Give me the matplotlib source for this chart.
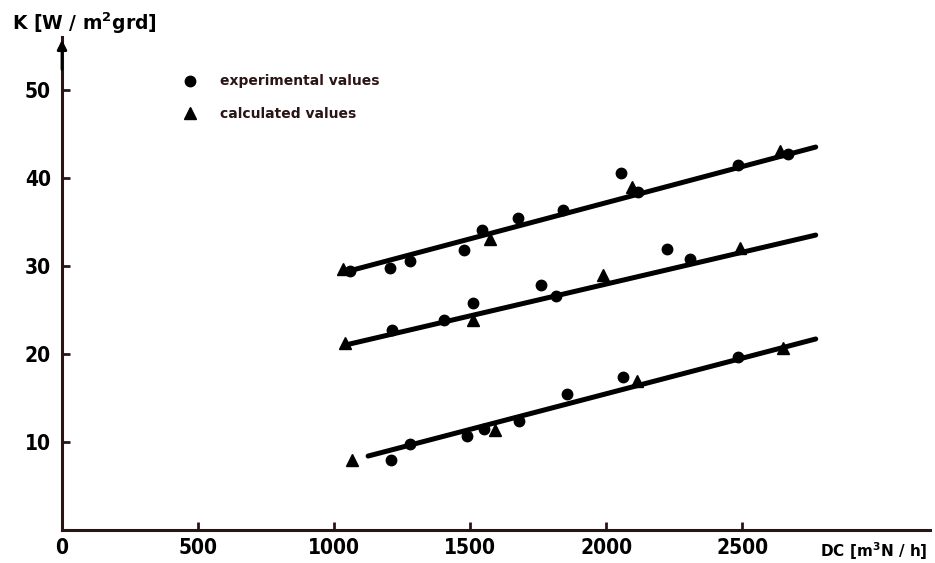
import matplotlib
matplotlib.use("Agg")
import matplotlib.pyplot as plt
from matplotlib.lines import Line2D

# ---- data ----
xticks = [0, 500, 1000, 1500, 2000, 2500]
yticks = [10, 20, 30, 40, 50]

# top series
top_exp_x = [1060, 1206, 1279, 1478, 1544, 1676, 1842, 2055, 2118, 2485, 2669]
top_exp_y = [29.4, 29.8, 30.6, 31.8, 34.1, 35.4, 36.3, 40.6, 38.4, 41.5, 42.7]
top_calc_x = [1033, 1574, 2095, 2640]
top_calc_y = [29.6, 33.0, 39.0, 43.0]
top_fit_x = [1040, 2770]
top_fit_y = [29.3, 43.5]

# middle series
mid_exp_x = [1213, 1404, 1511, 1761, 1816, 2224, 2309]
mid_exp_y = [22.7, 23.8, 25.8, 27.8, 26.6, 31.9, 30.8]
mid_calc_x = [1040, 1511, 1989, 2493]
mid_calc_y = [21.2, 23.8, 29.0, 32.0]
mid_fit_x = [1040, 2770]
mid_fit_y = [21.0, 33.5]

# bottom series
bot_exp_x = [1210, 1279, 1489, 1551, 1680, 1857, 2063, 2485]
bot_exp_y = [7.9, 9.8, 10.7, 11.5, 12.4, 15.4, 17.4, 19.6]
bot_calc_x = [1066, 1592, 2114, 2651]
bot_calc_y = [8.0, 11.4, 16.9, 20.7]
bot_fit_x = [1125, 2770]
bot_fit_y = [8.4, 21.7]

axis_col = "#2b1510"
text_col = "#2a1414"
W, H = 935, 563
fig = plt.figure(figsize=(W / 100, H / 100), dpi=100)
ax = fig.add_axes([62 / W, (H - 530) / H, (930 - 62) / W, (530 - 37) / H])
ax.set_xlim(0, 3190)
ax.set_ylim(0, 56)

for s in ["top", "right"]:
    ax.spines[s].set_visible(False)
for s in ["left", "bottom"]:
    ax.spines[s].set_color(axis_col)
    ax.spines[s].set_linewidth(2.2)

tick_font = dict(family=["DejaVu Sans"], weight="bold", stretch="condensed", size=15)
ax.set_xticks(xticks)
ax.set_xticklabels([str(v) for v in xticks], **tick_font)
ax.set_yticks(yticks)
ax.set_yticklabels([str(v) for v in yticks], **tick_font)
ax.tick_params(axis="both", direction="in", length=6, width=2, color=axis_col)
ax.tick_params(axis="x", pad=6)
ax.tick_params(axis="y", pad=8)

lw = 3.6
for fx, fy in [(top_fit_x, top_fit_y), (mid_fit_x, mid_fit_y), (bot_fit_x, bot_fit_y)]:
    ax.plot(fx, fy, color="black", lw=lw, solid_capstyle="round", zorder=3)

for ex, ey in [(top_exp_x, top_exp_y), (mid_exp_x, mid_exp_y), (bot_exp_x, bot_exp_y)]:
    ax.plot(ex, ey, "o", color="black", ms=7.5, zorder=4)
for cx, cy in [(top_calc_x, top_calc_y), (mid_calc_x, mid_calc_y), (bot_calc_x, bot_calc_y)]:
    ax.plot(cx, cy, "^", color="black", ms=8, zorder=4)

# y axis arrow head
ax.annotate("", xy=(0, 56), xytext=(0, 52),
            arrowprops=dict(arrowstyle="-|>", color="black", lw=2, mutation_scale=14),
            annotation_clip=False)

# legend
handles = [Line2D([], [], marker="o", ls="none", color="black", ms=7.5),
           Line2D([], [], marker="^", ls="none", color="black", ms=8.5)]
leg = fig.legend(handles, ["experimental values", "calculated values"],
                 loc="upper left", bbox_to_anchor=(171 / W, 1 - 62 / H),
                 frameon=False, handletextpad=1.6, labelspacing=1.35,
                 handlelength=1.0, prop=dict(family="DejaVu Sans", weight="bold", size=10))
for t in leg.get_texts():
    t.set_color(text_col)

fig.text(12 / W, 1 - 23 / H, r"K [W / m$^\mathbf{2}$grd]", fontsize=13.5, weight="bold",
         color="black", va="center", ha="left", family="DejaVu Sans")
fig.text(820 / W, 1 - 551 / H, r"DC [m$^\mathbf{3}$N / h]", fontsize=11, weight="bold",
         color="black", va="center", ha="left", family="DejaVu Sans")

fig.savefig("out.png", dpi=100)
